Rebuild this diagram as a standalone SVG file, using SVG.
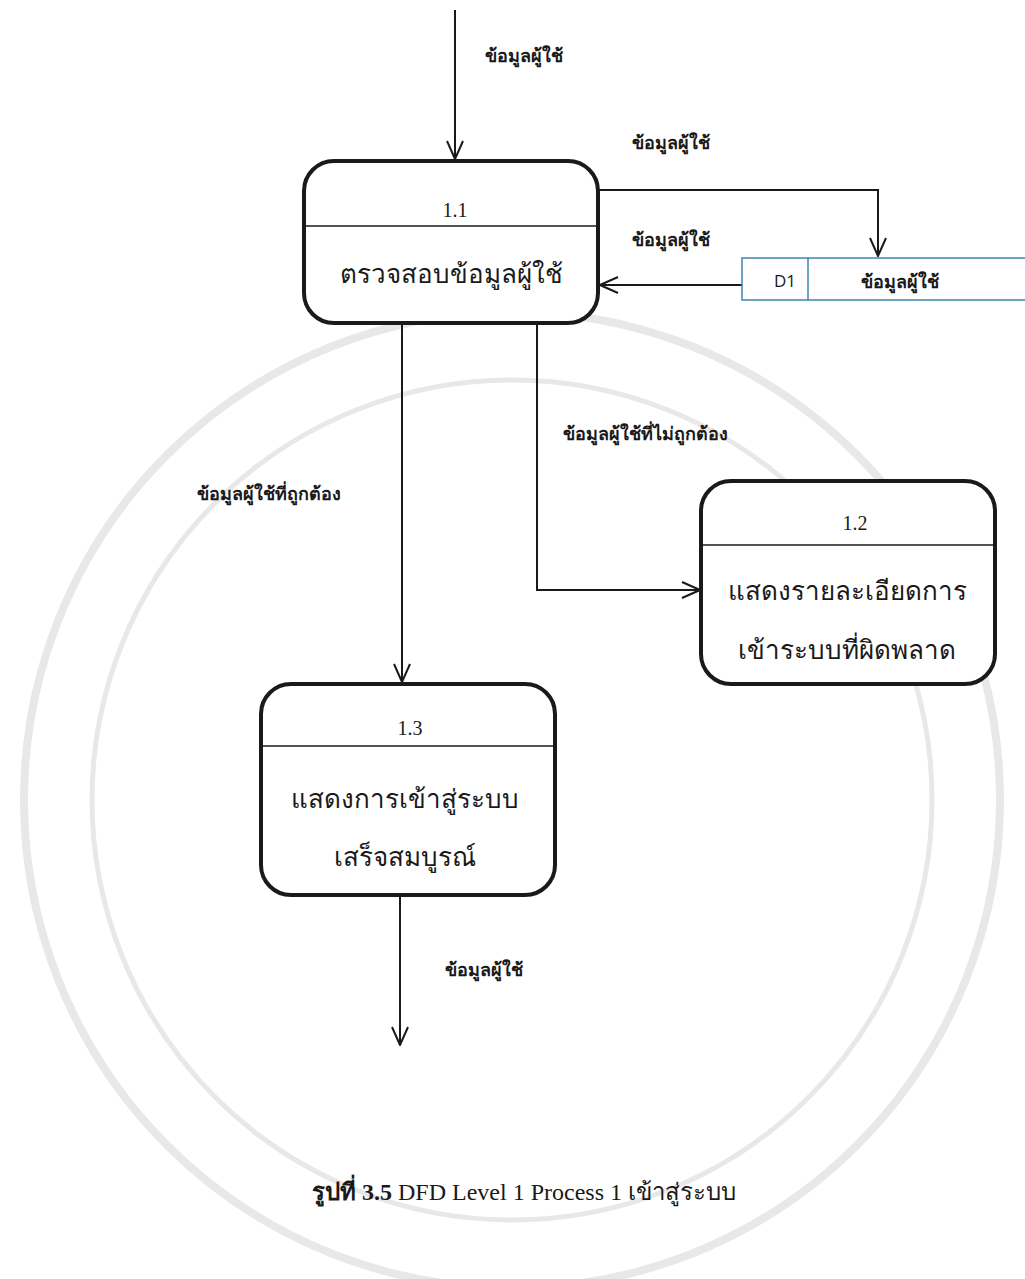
<svg xmlns="http://www.w3.org/2000/svg" width="1025" height="1279" viewBox="0 0 1025 1279">
<style>
.proc{fill:#fff;stroke:#1a1a1a;stroke-width:4}
.div{stroke:#1a1a1a;stroke-width:1.5}
.flow{fill:none;stroke:#1a1a1a;stroke-width:2}
.lbl{font-family:"Liberation Serif","Noto Sans",serif;font-size:18px;fill:#1a1a1a;font-weight:bold}
.num{font-family:"Liberation Serif",serif;font-size:20px;fill:#1a1a1a;text-anchor:middle}
.name{font-family:"Liberation Serif","Noto Sans",serif;font-size:26px;fill:#1a1a1a;text-anchor:middle}
.store{fill:#fff;stroke:#3a86b4;stroke-width:1.5}
.wm{fill:none;stroke:#e8e8e8}
</style>
<defs>
<marker id="arr" viewBox="0 0 20 20" refX="19" refY="10" markerWidth="20" markerHeight="20" markerUnits="userSpaceOnUse" orient="auto">
<path d="M1,2 L19,10 L1,18" fill="none" stroke="#1a1a1a" stroke-width="2"/>
</marker>
</defs>
<rect width="1025" height="1279" fill="#fff"/>
<g id="watermark">
<circle class="wm" cx="512" cy="800" r="488" stroke-width="8"/>
<circle class="wm" cx="512" cy="800" r="420" stroke-width="5"/>
</g>
<g id="connectors">
<line class="flow" x1="455" y1="10" x2="455" y2="159" marker-end="url(#arr)"/>
<polyline class="flow" points="598,190 878,190 878,256" marker-end="url(#arr)"/>
<line class="flow" x1="742" y1="285" x2="600" y2="285" marker-end="url(#arr)"/>
<line class="flow" x1="402" y1="323" x2="402" y2="682" marker-end="url(#arr)"/>
<polyline class="flow" points="537,323 537,590 700,590" marker-end="url(#arr)"/>
<line class="flow" x1="400" y1="895" x2="400" y2="1045" marker-end="url(#arr)"/>
<text class="lbl" x="485" y="62">ข้อมูลผู้ใช้</text>
<text class="lbl" x="632" y="149">ข้อมูลผู้ใช้</text>
<text class="lbl" x="632" y="246">ข้อมูลผู้ใช้</text>
<text class="lbl" x="563" y="440">ข้อมูลผู้ใช้ที่ไม่ถูกต้อง</text>
<text class="lbl" x="197" y="500">ข้อมูลผู้ใช้ที่ถูกต้อง</text>
<text class="lbl" x="445" y="976">ข้อมูลผู้ใช้</text>
</g>
<g id="p1_1">
<rect class="proc" x="304" y="161" width="294" height="162" rx="30"/>
<line class="div" x1="304" y1="226" x2="598" y2="226"/>
<text class="num" x="455" y="217">1.1</text>
<text class="name" x="451" y="283">ตรวจสอบข้อมูลผู้ใช้</text>
</g>
<g id="d1">
<rect class="store" x="742" y="258" width="300" height="42"/>
<line class="store" x1="808" y1="258" x2="808" y2="300"/>
<text x="785" y="287" font-family="'Open Sans','Liberation Sans',sans-serif" font-size="17" text-anchor="middle" fill="#1a1a1a">D1</text>
<text class="lbl" x="900" y="288" text-anchor="middle">ข้อมูลผู้ใช้</text>
</g>
<g id="p1_2">
<rect class="proc" x="701" y="481" width="294" height="203" rx="30"/>
<line class="div" x1="701" y1="545" x2="995" y2="545"/>
<text class="num" x="855" y="530">1.2</text>
<text class="name" x="847" y="600">แสดงรายละเอียดการ</text>
<text class="name" x="847" y="659">เข้าระบบที่ผิดพลาด</text>
</g>
<g id="p1_3">
<rect class="proc" x="261" y="684" width="294" height="211" rx="30"/>
<line class="div" x1="261" y1="746" x2="555" y2="746"/>
<text class="num" x="410" y="735">1.3</text>
<text class="name" x="405" y="808">แสดงการเข้าสู่ระบบ</text>
<text class="name" x="405" y="866">เสร็จสมบูรณ์</text>
</g>
<g id="caption">
<text x="524" y="1200" font-family="'Liberation Serif','Noto Sans',serif" font-size="24" text-anchor="middle" fill="#1a1a1a"><tspan font-weight="bold">รูปที่ 3.5</tspan> DFD Level 1 Process 1 เข้าสู่ระบบ</text>
</g>
</svg>
